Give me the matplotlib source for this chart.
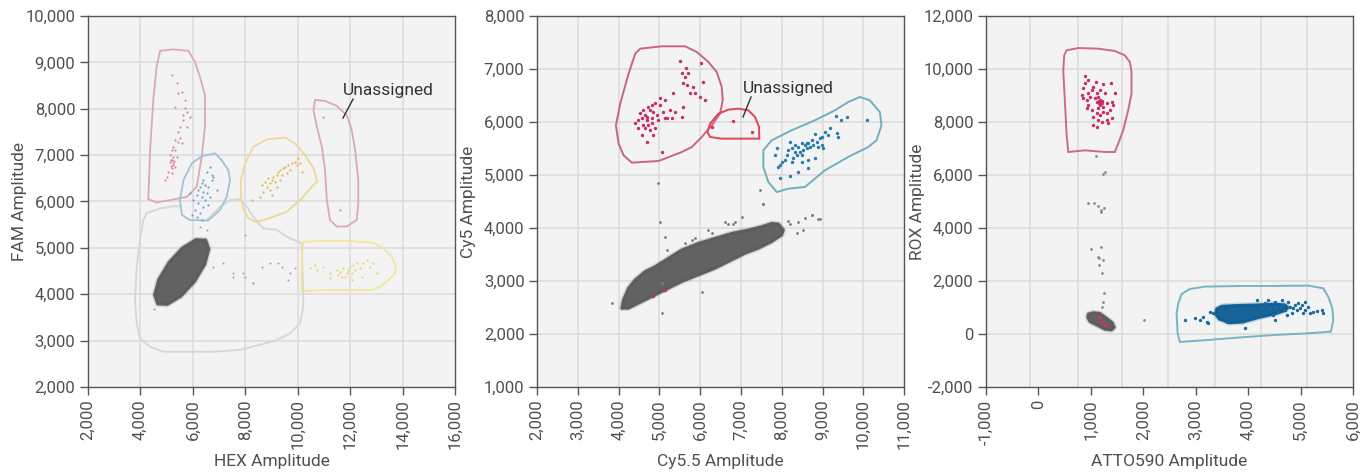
import numpy as np
import matplotlib.pyplot as plt
from matplotlib.patches import Polygon

plt.rcParams['font.family'] = ['Roboto', 'DejaVu Sans']

# ---------------- HEX / FAM ----------------
hex_gate_pink_x = [4750, 5250, 5830, 6080, 6270, 6460, 6460, 6340, 6150, 5770, 5130, 4620, 4300, 4370, 4490, 4620]
hex_gate_pink_y = [9250, 9280, 9250, 9010, 8690, 8300, 7610, 6970, 6320, 6100, 6030, 5980, 6050, 7110, 8190, 8910]
hex_gate_blue_x = [6340, 6850, 7100, 7350, 7420, 7290, 7040, 6590, 5890, 5580, 5510, 5640, 5960]
hex_gate_blue_y = [6980, 7040, 6890, 6680, 6460, 6100, 5820, 5590, 5600, 5710, 6030, 6460, 6820]
hex_gate_orange_x = [8310, 8820, 9520, 9900, 10280, 10600, 10750, 10600, 10090, 9580, 9070, 8690, 8370, 8120, 7930, 7830, 7830, 7990]
hex_gate_orange_y = [7180, 7340, 7380, 7250, 7000, 6720, 6430, 6360, 6030, 5780, 5670, 5600, 5560, 5640, 5820, 6100, 6460, 6820]
hex_gate_unas_x = [10660, 11040, 11490, 11870, 12060, 12190, 12310, 12310, 12250, 11870, 11490, 11230, 11110, 11040, 10920, 10730, 10600]
hex_gate_unas_y = [8190, 8170, 8060, 7860, 7540, 7110, 6460, 5960, 5600, 5460, 5460, 5600, 6030, 6680, 7180, 7610, 7970]
hex_gate_yellow_x = [10210, 10850, 12000, 12890, 13270, 13590, 13750, 13710, 13460, 13140, 12820, 12000, 11110, 10150, 10150]
hex_gate_yellow_y = [5130, 5150, 5150, 5110, 4990, 4810, 4590, 4450, 4310, 4160, 4090, 4090, 4090, 4070, 4590]
# open outline of the negative gate (runs behind the blue gate)
hex_gate_neg_x = [6530, 7040, 7420, 7800, 8050, 8310, 8500, 8690, 9200, 9580, 9900, 10150, 10210, 10210, 10090, 9710,
                  9200, 8560, 7800, 6780, 5770, 4870, 4370, 3980, 3860, 3790, 3860, 3980, 4110, 4240, 4750, 5250, 5580]
hex_gate_neg_y = [5600, 5890, 6030, 6050, 5890, 5670, 5530, 5420, 5390, 5240, 5160, 5100, 4090, 3730, 3370, 3160,
                  3010, 2910, 2800, 2760, 2760, 2760, 2870, 3050, 3370, 3880, 4590, 5170, 5600, 5750, 5850, 5900, 5890]

hex_cloud_x = [6494, 6612, 6456, 6063, 5540, 5025, 4655, 4537, 4693, 5086, 5609, 6124]
hex_cloud_y = [5169, 4973, 4645, 4272, 3955, 3779, 3790, 3986, 4313, 4686, 5003, 5180]
hex_gray_x = [6780, 7160, 7540, 6530, 6270, 7990, 8310, 7540, 7930, 7990, 8310, 8630, 8940, 9260, 9390, 9710, 9640, 9900, 4500]
hex_gray_y = [4590, 4670, 4380, 5390, 5460, 5280, 4240, 4450, 4450, 4380, 4240, 4590, 4670, 4670, 4590, 4450, 4310, 4560, 3690]
hex_pink_x = [5218, 5383, 5447, 5574, 5320, 5701, 5765, 5612, 5638, 5510, 5447, 5320, 5447, 5510, 5256, 5192, 5320,
              5129, 5256, 5192, 5129, 5256, 5320, 5154, 5065, 5192, 5002, 4938, 5383, 5701, 5892, 5765, 5574,
              5150, 5230, 5280, 5200, 10979, 11615]
hex_pink_y = [8726, 8546, 8331, 8367, 8043, 8007, 7935, 7863, 7755, 7612, 7504, 7324, 7288, 7360, 7180, 7108, 7108,
              7000, 6965, 6893, 6857, 6821, 6749, 6763, 6641, 6605, 6533, 6461, 6965, 8187, 7827, 7612, 7252,
              6900, 6780, 6880, 6720, 7829, 5815]
hex_blue_x = [6655, 6528, 6719, 6401, 6337, 6464, 6274, 6592, 6210, 6401, 6528, 6719, 6782, 6146, 6337, 6019, 6210,
              6464, 6592, 6083, 6274, 5956, 6146, 6337, 6910, 5892, 6655, 6401]
hex_blue_y = [6749, 6641, 6569, 6461, 6389, 6353, 6317, 6317, 6246, 6210, 6174, 6461, 6533, 6138, 6102, 6030, 5958,
              6030, 5922, 5814, 5742, 5706, 5670, 5598, 6246, 6174, 6102, 5886]
hex_orange_x = [8625, 8753, 8816, 8943, 8880, 9007, 9071, 9198, 9134, 9261, 9325, 9452, 9389, 9516, 9643, 9707, 9579,
                9770, 9897, 10025, 9961, 10088, 9198, 8689, 8943, 8562, 8244, 9007, 10152, 9325]
hex_orange_y = [6355, 6427, 6319, 6391, 6498, 6462, 6534, 6570, 6427, 6642, 6678, 6714, 6570, 6750, 6786, 6678, 6606,
                6822, 6858, 6930, 6786, 6822, 6319, 6211, 6247, 6103, 6031, 6139, 6642, 6462]
hex_yellow_x = [11233, 11487, 11615, 11742, 11869, 11805, 11933, 11996, 12060, 12123, 12251, 12187, 11678, 11551,
                12378, 12505, 12632, 12759, 12887, 11233, 10979, 10724, 10470, 10661, 13014, 12060, 12441]
hex_yellow_y = [4449, 4521, 4485, 4557, 4449, 4377, 4521, 4593, 4449, 4629, 4665, 4521, 4377, 4413,
                4557, 4665, 4737, 4593, 4665, 4341, 4593, 4521, 4557, 4629, 4449, 4305, 4377]

# ---------------- Cy5.5 / Cy5 ----------------
cy_gate_pink_x = [4407, 4530, 5060, 5631, 5917, 6202, 6406, 6529, 6553, 6488, 6284, 6039, 5794, 5550, 4978, 4326, 4122, 4000, 3934, 4040, 4244]
cy_gate_pink_y = [7289, 7384, 7428, 7428, 7321, 7132, 6943, 6660, 6409, 6157, 5937, 5717, 5528, 5434, 5264, 5233, 5371, 5591, 5937, 6346, 6912]
cy_gate_red_x = [6447, 6692, 6937, 7182, 7345, 7443, 7451, 7018, 6529, 6243, 6178, 6243]
cy_gate_red_y = [6157, 6233, 6252, 6220, 6094, 5906, 5686, 5686, 5686, 5717, 5811, 5969]
cy_gate_blue_x = [9915, 10160, 10405, 10446, 10323, 10119, 9630, 9058, 8569, 8161, 7875, 7671, 7549, 7549, 7753, 8242, 8814, 9303, 9630]
cy_gate_blue_y = [6472, 6409, 6189, 5937, 5654, 5528, 5340, 5088, 4774, 4742, 4679, 4868, 5151, 5466, 5654, 5843, 6032, 6220, 6377]

cy_cloud_x = [4076, 4117, 4239, 4403, 4648, 4893, 5220, 5547, 5955, 6364, 6773, 7181, 7508, 7754, 7917, 8040, 7999,
              7754, 7427, 7100, 6773, 6364, 5955, 5547, 5138, 4811, 4484, 4239]
cy_cloud_y = [2485, 2642, 2862, 3019, 3177, 3271, 3428, 3586, 3711, 3806, 3900, 3963, 4026, 4089, 4076, 3963, 3869,
              3743, 3617, 3523, 3397, 3240, 3114, 2988, 2831, 2705, 2579, 2485]
cy_gray_x = [7549, 7018, 5016, 6609, 6691, 6814, 6854, 6201, 6282, 5874, 5792, 5629, 5138, 5179, 8162, 8203, 8407,
             8530, 8366, 8734, 8898, 8571, 6037, 5056, 3830, 5056, 4962, 7467, 7549, 8732, 8936]
cy_gray_y = [4454, 4215, 4120, 4120, 4076, 4076, 4120, 3963, 3900, 3806, 3774, 3711, 3825, 3586, 4139, 4076, 4120,
             3963, 3900, 4246, 4164, 4183, 2799, 2390, 2579, 2957, 4849, 4711, 4447, 4239, 4164]
cy_pink_x = [5506, 5653, 6013, 5547, 5710, 5629, 6078, 5571, 5669, 5833, 5874, 5751, 5996, 6119, 5342, 5138, 5016,
             4893, 4811, 4729, 4607, 4770, 4852, 4648, 4566, 4484, 4689, 4811, 4934, 5097, 5261, 5383, 5547, 5302,
             5138, 4975, 4729, 4607, 4484, 4648, 4770, 4893, 4852, 4566, 4689, 5057, 5016, 5179, 5588, 4403, 4525,
             4811, 4689, 4852, 5138]
cy_pink_y = [7158, 7013, 7120, 6932, 6919, 6856, 6762, 6743, 6699, 6667, 6542, 6542, 6479, 6416, 6542, 6416, 6447,
             6353, 6321, 6290, 6227, 6227, 6196, 6133, 6070, 6038, 6038, 6070, 6133, 6196, 6227, 6196, 6101, 6070,
             6070, 6038, 5944, 5944, 5881, 5881, 5850, 5881, 5755, 5755, 5630, 5441, 6321, 6070, 6290, 5976, 6164,
             5976, 6101, 2717, 2831]
cy_red_x = [6814, 7263, 6282]
cy_red_y = [6020, 5818, 5913]
cy_blue_x = [9323, 9454, 9593, 10083, 9184, 9061, 9127, 9347, 9388, 8816, 8939, 8857, 8734, 8653, 8571, 8489, 8407,
             8530, 8612, 8694, 8775, 8898, 8980, 9021, 8448, 8326, 8244, 8162, 8203, 8367, 8285, 8121, 8081, 7999,
             7958, 7917, 8244, 8489, 8653, 8816, 8407, 8203, 7958, 7876, 7835, 8653, 8612, 8326, 8489, 8980]
cy_blue_y = [6113, 6038, 6101, 6038, 5881, 5818, 5755, 5786, 5723, 5774, 5692, 5629, 5661, 5610, 5566, 5598, 5535,
             5472, 5503, 5535, 5566, 5535, 5566, 5503, 5440, 5440, 5503, 5472, 5629, 5377, 5315, 5377, 5283, 5252,
             5189, 5157, 5252, 5252, 5283, 5315, 5063, 4981, 4937, 5503, 5377, 5126, 5598, 5566, 5377, 5723]

# ---------------- ATTO590 / ROX ----------------
atto_gate_pink_x = [537, 759, 1141, 1458, 1649, 1744, 1776, 1776, 1712, 1617, 1522, 1458, 1268, 887, 569, 537, 505, 474, 493]
atto_gate_pink_y = [10704, 10792, 10767, 10679, 10516, 10264, 9887, 9069, 8440, 7685, 7182, 6868, 6868, 6931, 6868, 7560, 8818, 9950, 10516]
atto_gate_blue_x = [2731, 2890, 3176, 3876, 4511, 5147, 5433, 5528, 5605, 5624, 5579, 5147, 4511, 3876, 3240, 2699, 2655, 2636, 2668]
atto_gate_blue_y = [1510, 1699, 1787, 1812, 1812, 1825, 1724, 1409, 969, 529, 89, 26, -37, -125, -226, -301, 26, 780, 1158]
atto_grid_x = [-162, 747, 1604, 2475, 3364, 4240, 5130]

atto_cloud_x = [951, 1047, 1174, 1301, 1409, 1447, 1396, 1269, 1110, 983, 939]
atto_cloud_y = [755, 806, 780, 592, 428, 252, 151, 177, 340, 466, 629]
atto_blue_cloud_x = [3400, 3500, 3800, 4200, 4500, 4700, 4760, 4700, 4500, 4200, 3900, 3650, 3450, 3380]
atto_blue_cloud_y = [950, 1050, 1080, 1100, 1130, 1100, 1000, 880, 750, 620, 450, 420, 560, 750]
atto_gray_x = [1091, 1237, 1269, 939, 1066, 1129, 1193, 1193, 1256, 996, 1193, 1129, 1155, 1237, 1155, 1205, 1256, 1237, 1205, 2013]
atto_gray_y = [6718, 6039, 6102, 4957, 4932, 4844, 4680, 4617, 4743, 3196, 3296, 2919, 2856, 2793, 2604, 2315, 1535, 1221, 1032, 529]
atto_red_x = [1155, 1269, 1205]
atto_red_y = [680, 340, 466]
atto_pink_x = [887, 951, 887, 1097, 1377, 1237, 1046, 1015, 951, 824, 856, 919, 983, 1110, 1142, 1174, 1205, 1110,
               1174, 1237, 1301, 1396, 1428, 1364, 1301, 1237, 1174, 1110, 1046, 1142, 1205, 1301, 1396, 1015, 1046,
               1110, 1332, 951, 919, 1142, 1078, 1174, 1269, 1460, 856, 1160, 1190, 1150, 1210]
atto_pink_y = [9750, 9586, 9461, 9524, 9486, 9435, 9335, 9209, 9083, 9020, 8895, 8832, 8957, 9083, 8957, 8832, 8706,
               8769, 8643, 8580, 8706, 8769, 8643, 8454, 8328, 8391, 8266, 8328, 8203, 8077, 8014, 8077, 8140, 8454,
               7888, 7825, 7951, 8643, 8517, 8517, 8895, 9209, 9083, 9083, 9272, 8800, 8740, 8700, 8800]
atto_blue_x = [2795, 2986, 3081, 3144, 3208, 3240, 3271, 5306, 5401, 5433, 5020, 5083, 4638, 4320, 4765, 4861, 4511,
               3939, 3589, 3335, 4511, 4638, 4702, 4797, 4893, 4925, 4988, 5083, 5147, 5179, 5242, 4575, 4829, 4416,
               4257, 4479, 4734, 4956, 5052, 4511, 4384, 4162]
atto_blue_y = [529, 592, 529, 655, 466, 403, 843, 881, 906, 780, 1095, 1221, 1284, 1158, 1221, 969, 529,
               214, 466, 780, 1032, 1095, 906, 1032, 1095, 906, 969, 906, 1032, 780, 843, 843, 780, 969,
               1032, 717, 717, 1158, 780, 1221, 1284, 1284]

text_color = '#505050'
bg_color = '#f3f3f3'
grid_color = '#dddddd'
cloud_color = '#5c5c5c'


def style_axes(ax, xlim, ylim, xticks, yticks, xlabel, ylabel, xgrid=None):
    ax.set_facecolor(bg_color)
    ax.set_xlim(xlim)
    ax.set_ylim(ylim)
    ax.set_xticks(xticks)
    ax.set_yticks(yticks)
    ax.set_xticklabels(['{:,}'.format(t) for t in xticks], rotation=90)
    ax.set_yticklabels(['{:,}'.format(t) for t in yticks])
    if xgrid is None:
        xgrid = xticks[1:-1]
    for g in xgrid:
        ax.axvline(g, color=grid_color, lw=1.2, zorder=0)
    for g in yticks[1:-1]:
        ax.axhline(g, color=grid_color, lw=1.2, zorder=0)
    for s in ax.spines.values():
        s.set_color('#555555')
        s.set_linewidth(1.0)
    ax.tick_params(direction='out', length=6, width=1, color='#555555',
                   labelcolor=text_color, labelsize=12, pad=3)
    ax.set_xlabel(xlabel, fontsize=12.5, color=text_color, va='center')
    ax.xaxis.set_label_coords(0.5, -0.2)
    ax.set_ylabel(ylabel, fontsize=12.5, color=text_color, va='center')
    ax.yaxis.set_label_coords(-0.187, 0.5)


def gate(ax, xs, ys, color, closed=True, lw=1.3):
    ax.add_patch(Polygon(np.column_stack([xs, ys]), closed=closed, fill=False,
                         edgecolor=color, lw=lw, zorder=2))


def cloud(ax, xs, ys, color=cloud_color):
    pts = np.column_stack([xs, ys])
    # soft outer rim, then the dense core
    ax.add_patch(Polygon(pts, closed=True, facecolor=color, edgecolor=color,
                         lw=4, alpha=0.2, joinstyle='round', zorder=3))
    ax.add_patch(Polygon(pts, closed=True, facecolor=color, edgecolor=color,
                         lw=2, alpha=0.95, joinstyle='round', zorder=3))


fig = plt.figure(figsize=(13.62, 4.75), dpi=100)
w, h, b = 0.2695, 0.781, 0.1853

# HEX / FAM
ax1 = fig.add_axes([0.0646, b, w, h])
style_axes(ax1, (2000, 16000), (2000, 10000), list(range(2000, 16001, 2000)),
           list(range(2000, 10001, 1000)), 'HEX Amplitude', 'FAM Amplitude')
gate(ax1, hex_gate_neg_x, hex_gate_neg_y, '#d6d6d6', closed=False)
gate(ax1, hex_gate_pink_x, hex_gate_pink_y, '#dca8b9')
gate(ax1, hex_gate_blue_x, hex_gate_blue_y, '#9cc5d2')
gate(ax1, hex_gate_orange_x, hex_gate_orange_y, '#ecd99a')
gate(ax1, hex_gate_unas_x, hex_gate_unas_y, '#dca8b9')
gate(ax1, hex_gate_yellow_x, hex_gate_yellow_y, '#efe898')
cloud(ax1, hex_cloud_x, hex_cloud_y)
ax1.scatter(hex_gray_x, hex_gray_y, s=2, color='#a0a0a0', lw=0, zorder=4)
ax1.scatter(hex_pink_x, hex_pink_y, s=2.5, color='#d885a1', lw=0, zorder=4)
ax1.scatter(hex_blue_x, hex_blue_y, s=2.5, color='#6aa6c6', lw=0, zorder=4)
ax1.scatter(hex_orange_x, hex_orange_y, s=2.5, color='#e0b552', lw=0, zorder=4)
ax1.scatter(hex_yellow_x, hex_yellow_y, s=2.5, color='#e4d877', lw=0, zorder=4)
ax1.plot([11728, 12110], [7800, 8209], color='#333333', lw=1, zorder=5)
ax1.text(11740, 8388, 'Unassigned', fontsize=12.5, color='#333333', ha='left', va='center')

# Cy5.5 / Cy5
ax2 = fig.add_axes([0.3943, b, w, h])
style_axes(ax2, (2000, 11000), (1000, 8000), list(range(2000, 11001, 1000)),
           list(range(1000, 8001, 1000)), 'Cy5.5 Amplitude', 'Cy5 Amplitude')
gate(ax2, cy_gate_pink_x, cy_gate_pink_y, '#c9638a', lw=1.4)
gate(ax2, cy_gate_red_x, cy_gate_red_y, '#e04455', lw=1.4)
gate(ax2, cy_gate_blue_x, cy_gate_blue_y, '#6eb0c0', lw=1.4)
cloud(ax2, cy_cloud_x, cy_cloud_y)
ax2.scatter(cy_gray_x, cy_gray_y, s=4, color='#7a7a7a', lw=0, zorder=4)
ax2.scatter(cy_pink_x, cy_pink_y, s=6, color='#c92d66', lw=0, zorder=4)
ax2.scatter(cy_red_x, cy_red_y, s=6, color='#e0304a', lw=0, zorder=4)
ax2.scatter(cy_blue_x, cy_blue_y, s=6, color='#2a7cab', lw=0, zorder=4)
ax2.plot([7051, 7247], [6095, 6472], color='#333333', lw=1, zorder=5)
ax2.text(7059, 6629, 'Unassigned', fontsize=12.5, color='#333333', ha='left', va='center')

# ATTO590 / ROX
ax3 = fig.add_axes([0.7239, b, w, h])
style_axes(ax3, (-1000, 6000), (-2000, 12000), list(range(-1000, 6001, 1000)),
           list(range(-2000, 12001, 2000)), 'ATTO590 Amplitude', 'ROX Amplitude', xgrid=atto_grid_x)
ax3.set_xticklabels(['-1,000', '0', '1,000', '2,000', '3,000', '4,000', '5,000', '6,000'], rotation=90)
ax3.set_yticklabels(['-2,000', '0', '2,000', '4,000', '6,000', '8,000', '10,000', '12,000'])
gate(ax3, atto_gate_pink_x, atto_gate_pink_y, '#cc6a8c', lw=1.4)
gate(ax3, atto_gate_blue_x, atto_gate_blue_y, '#78b4c3', lw=1.4)
cloud(ax3, atto_cloud_x, atto_cloud_y)
cloud(ax3, atto_blue_cloud_x, atto_blue_cloud_y, color='#0c5e94')
ax3.scatter(atto_gray_x, atto_gray_y, s=4, color='#8a8a8a', lw=0, zorder=4)
ax3.scatter(atto_red_x, atto_red_y, s=6, color='#e0304a', lw=0, zorder=4)
ax3.scatter(atto_pink_x, atto_pink_y, s=6, color='#c92d66', lw=0, zorder=4)
ax3.scatter(atto_blue_x, atto_blue_y, s=6, color='#1a6a9e', lw=0, zorder=4)

plt.savefig('out.png', dpi=100)
